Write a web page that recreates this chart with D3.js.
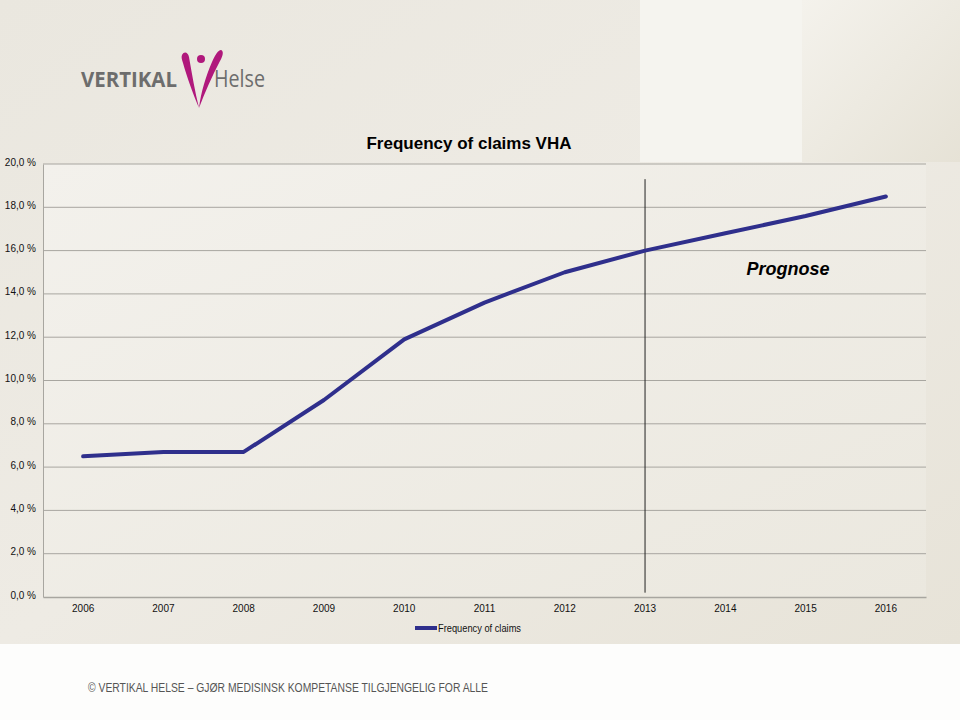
<!DOCTYPE html>
<html><head><meta charset="utf-8">
<script src="https://cdn.jsdelivr.net/npm/d3@7"></script>
<style>
html,body{margin:0;padding:0;background:#fff;}
svg{display:block;font-family:"Liberation Sans",Arial,sans-serif;}
</style></head>
<body>
<svg id="chart" width="960" height="720"></svg>
<script>
const years = ["2006","2007","2008","2009","2010","2011","2012","2013","2014","2015","2016"];
const claims = [6.5, 6.7, 6.7, 9.1, 11.9, 13.6, 15.0, 16.0, 16.8, 17.6, 18.5];
const yTicks = [0,2,4,6,8,10,12,14,16,18,20];
const seriesName = "Frequency of claims";
const chartTitle = "Frequency of claims VHA";
const forecastStart = "2013";
const forecastLabel = "Prognose";
const footerText = "© VERTIKAL HELSE – GJØR MEDISINSK KOMPETANSE TILGJENGELIG FOR ALLE";

const svg = d3.select("#chart");
const defs = svg.append("defs");

const bgGrad = defs.append("linearGradient").attr("id","bg").attr("x1","0").attr("y1","0").attr("x2","1").attr("y2","1");
bgGrad.append("stop").attr("offset","0%").attr("stop-color","#eae7df");
bgGrad.append("stop").attr("offset","50%").attr("stop-color","#eeebe4");
bgGrad.append("stop").attr("offset","100%").attr("stop-color","#e7e3d8");

const rGrad = defs.append("linearGradient").attr("id","rpanel").attr("x1","0").attr("y1","0").attr("x2","1").attr("y2","1");
rGrad.append("stop").attr("offset","0%").attr("stop-color","#f4f2ec");
rGrad.append("stop").attr("offset","100%").attr("stop-color","#e6e2d6");

const pGrad = defs.append("linearGradient").attr("id","plotbg").attr("x1","0").attr("y1","0").attr("x2","1").attr("y2","1");
pGrad.append("stop").attr("offset","0%").attr("stop-color","#f3f1ec");
pGrad.append("stop").attr("offset","100%").attr("stop-color","#ebe8df");

// background
svg.append("rect").attr("x",0).attr("y",0).attr("width",960).attr("height",720).attr("fill","#fdfdfc");
svg.append("rect").attr("x",0).attr("y",0).attr("width",960).attr("height",644).attr("fill","url(#bg)");
svg.append("rect").attr("x",640).attr("y",0).attr("width",162).attr("height",162).attr("fill","#f5f4ef");
svg.append("rect").attr("x",802).attr("y",0).attr("width",158).attr("height",162).attr("fill","url(#rpanel)");

const margin = {left:43, right:34, top:164, bottom:123};
const W = 960, H = 720;
const x = d3.scaleBand().domain(years).range([margin.left, W - margin.right]);
const y = d3.scaleLinear().domain([0,20]).range([H - margin.bottom, margin.top]);

svg.append("rect").attr("x",margin.left).attr("y",margin.top)
  .attr("width",x.range()[1]-margin.left).attr("height",y(0)-margin.top).attr("fill","url(#plotbg)");

// gridlines
svg.append("g").selectAll("line").data(yTicks.slice(1)).join("line")
  .attr("x1",margin.left).attr("x2",x.range()[1])
  .attr("y1",d=>y(d)).attr("y2",d=>y(d))
  .attr("stroke","#a8a6a0").attr("stroke-width",1);

// axes
const yAxis = d3.axisLeft(y).tickValues(yTicks).tickSize(0).tickPadding(7)
  .tickFormat(d => d3.format(".1f")(d).replace(".",",") + " %");
const gy = svg.append("g").attr("transform",`translate(${margin.left},0)`).call(yAxis);
gy.select(".domain").attr("stroke","#a8a6a0");
gy.selectAll("text").attr("font-size",10).attr("fill","#111").attr("font-family","Liberation Sans, Arial, sans-serif")
  .attr("dy","0.1em");

const xAxis = d3.axisBottom(x).tickSize(0).tickPadding(8);
const gx = svg.append("g").attr("transform",`translate(0,${y(0)})`).call(xAxis);
gx.select(".domain").attr("stroke","#a8a6a0").attr("stroke-width",1.5);
gx.selectAll("text").attr("font-size",10).attr("fill","#111").attr("font-family","Liberation Sans, Arial, sans-serif");

// forecast line
const fx = x(forecastStart) + x.bandwidth()/2;
svg.append("line").attr("x1",fx).attr("x2",fx).attr("y1",y(19.3)).attr("y2",y(0.2))
  .attr("stroke","#222").attr("stroke-width",1);

// series
const line = d3.line().x((d,i)=>x(years[i])+x.bandwidth()/2).y(d=>y(d));
svg.append("path").datum(claims).attr("d",line).attr("fill","none")
  .attr("stroke","#2f2f8c").attr("stroke-width",4).attr("stroke-linejoin","round").attr("stroke-linecap","round");

// title
svg.append("text").attr("x",469).attr("y",149).attr("text-anchor","middle")
  .attr("font-size",17).attr("font-weight","bold").attr("fill","#000").text(chartTitle);

// Prognose
svg.append("text").attr("x",788).attr("y",275).attr("text-anchor","middle")
  .attr("font-size",18).attr("font-weight","bold").attr("font-style","italic").attr("fill","#000").text(forecastLabel);

// legend
svg.append("line").attr("x1",415).attr("x2",437).attr("y1",628).attr("y2",628)
  .attr("stroke","#2f2f8c").attr("stroke-width",4);
svg.append("text").attr("x",438).attr("y",632).attr("font-size",10.5).attr("fill","#111")
  .attr("textLength",83).attr("lengthAdjust","spacingAndGlyphs").text(seriesName);

// footer
svg.append("text").attr("x",88).attr("y",692).attr("font-size",12.5).attr("fill","#555")
  .attr("textLength",400).attr("lengthAdjust","spacingAndGlyphs").text(footerText);

// logo
const logo = svg.append("g");
logo.append("text").attr("x",81).attr("y",87).attr("font-size",21).attr("font-weight","bold")
  .attr("fill","#6d6d6d").attr("font-family","Open Sans, sans-serif")
  .attr("textLength",96).attr("lengthAdjust","spacingAndGlyphs").text("VERTIKAL");
logo.append("text").attr("x",214).attr("y",87).attr("font-size",23)
  .attr("fill","#6d6d6d").attr("font-family","Open Sans, sans-serif")
  .attr("textLength",51).attr("lengthAdjust","spacingAndGlyphs").text("Helse");
logo.append("path").attr("d","M182,55 C184,51 188,52 189,57 C192,74 195,92 199,108 C193,94 187,77 183,63 C182,60 181,57 182,55 Z")
  .attr("fill","#b0187c");
logo.append("path").attr("d","M221,50 C224,51 223,56 220,61 C212,76 205,92 199,108 C201,92 206,76 212,62 C215,55 218,50 221,50 Z")
  .attr("fill","#b0187c");
logo.append("circle").attr("cx",201).attr("cy",59).attr("r",4).attr("fill","#b0187c");
</script>
</body></html>
